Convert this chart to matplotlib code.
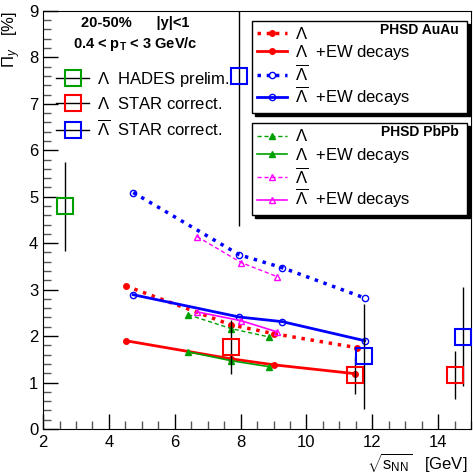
import matplotlib
matplotlib.use("Agg")
import matplotlib.pyplot as plt
from matplotlib.lines import Line2D
from matplotlib.ticker import MultipleLocator

plt.rcParams['font.family'] = ['Liberation Sans', 'DejaVu Sans']
plt.rcParams['mathtext.fontset'] = 'custom'
plt.rcParams['mathtext.rm'] = 'Liberation Sans'
plt.rcParams['mathtext.it'] = 'Liberation Sans:italic'
plt.rcParams['mathtext.bf'] = 'Liberation Sans:bold'

# ---------------- datos PHSD AuAu ----------------
lam_auau_x = [4.51, 7.71, 9.02, 11.53]
lam_auau_y = [3.08, 2.24, 2.05, 1.75]
lam_ew_auau_x = [4.51, 7.71, 9.02, 11.48]
lam_ew_auau_y = [1.90, 1.51, 1.38, 1.19]
alam_auau_x = [4.74, 7.96, 9.27, 11.77]
alam_auau_y = [5.09, 3.75, 3.47, 2.82]
alam_ew_auau_x = [4.74, 7.96, 9.27, 11.77]
alam_ew_auau_y = [2.89, 2.41, 2.31, 1.90]

# ---------------- datos PHSD PbPb ----------------
lam_pbpb_x = [6.41, 7.71, 8.87]
lam_pbpb_y = [2.46, 2.16, 1.98]
lam_ew_pbpb_x = [6.41, 7.71, 8.87]
lam_ew_pbpb_y = [1.66, 1.47, 1.34]
alam_pbpb_x = [6.68, 8.02, 9.11]
alam_pbpb_y = [4.14, 3.58, 3.28]
alam_ew_pbpb_x = [6.68, 8.02, 9.11]
alam_ew_pbpb_y = [2.52, 2.33, 2.09]

# ---------------- datos experimentales ----------------
hades_x = [2.67]
hades_y = [4.79]
hades_err = [0.96]
star_lam_x = [7.71, 11.48, 14.52]
star_lam_y = [1.77, 1.16, 1.16]
star_lam_err = [0.58, 0.40, 0.51]
star_alam_x = [7.96, 11.76, 14.76]
star_alam_y = [7.59, 1.57, 1.99]
star_alam_err = [3.23, 1.13, 1.07]

ROJO = '#ff0000'
AZUL = '#0000ff'
VERDE = '#00a000'
MAGENTA = '#ff00ff'

fig = plt.figure(figsize=(4.73, 4.74), dpi=100)
ax = fig.add_axes([0.091, 0.095, 0.905, 0.882])

# Curvas AuAu (gruesas)
ax.plot(lam_auau_x, lam_auau_y, color=ROJO, ls=':', lw=2.5, marker='o', ms=4)
ax.plot(lam_ew_auau_x, lam_ew_auau_y, color=ROJO, ls='-', lw=2, marker='o', ms=4)
ax.plot(alam_auau_x, alam_auau_y, color=AZUL, ls=':', lw=2.5, marker='o', ms=4.5, mfc='none')
ax.plot(alam_ew_auau_x, alam_ew_auau_y, color=AZUL, ls='-', lw=2, marker='o', ms=4.5, mfc='none')

# Curvas PbPb (finas)
ax.plot(lam_pbpb_x, lam_pbpb_y, color=VERDE, ls=(0, (3, 2)), lw=1, marker='^', ms=4)
ax.plot(lam_ew_pbpb_x, lam_ew_pbpb_y, color=VERDE, ls='-', lw=1.2, marker='^', ms=4)
ax.plot(alam_pbpb_x, alam_pbpb_y, color=MAGENTA, ls=(0, (3, 2)), lw=1, marker='^', ms=5, mfc='none')
ax.plot(alam_ew_pbpb_x, alam_ew_pbpb_y, color=MAGENTA, ls='-', lw=1.2, marker='^', ms=5, mfc='none')

# Puntos experimentales
ax.errorbar(hades_x, hades_y, yerr=hades_err, fmt='s', ms=11, mfc='none', mec=VERDE,
            mew=1.5, ecolor='black', elinewidth=1, capsize=0, zorder=5)
ax.errorbar(star_lam_x, star_lam_y, yerr=star_lam_err, fmt='s', ms=11, mfc='none', mec=ROJO,
            mew=1.5, ecolor='black', elinewidth=1, capsize=0, zorder=5)
ax.errorbar(star_alam_x, star_alam_y, yerr=star_alam_err, fmt='s', ms=11, mfc='none', mec=AZUL,
            mew=1.5, ecolor='black', elinewidth=1, capsize=0, zorder=5)

ax.set_xlim(2, 15)
ax.set_ylim(0, 9)
ax.xaxis.set_major_locator(MultipleLocator(2))
ax.xaxis.set_minor_locator(MultipleLocator(0.5))
ax.yaxis.set_major_locator(MultipleLocator(1))
ax.yaxis.set_minor_locator(MultipleLocator(0.2))
ax.tick_params(which='both', direction='in', labelsize=12, top=False, right=False)
ax.tick_params(which='major', length=11, width=1)
ax.tick_params(which='minor', length=6, width=1, color='#555555')
ax.tick_params(axis='x', pad=4)

ax.set_xlabel(r'$\sqrt{\mathrm{s}_{\mathrm{NN}}}$   [GeV]', fontsize=12, ha='right')
ax.xaxis.set_label_coords(0.992, -0.055)
ax.set_ylabel(r'$\Pi_y$   [%]', loc='top', fontsize=12, labelpad=4)

# Encabezado
ax.text(0.215, 0.971, '20-50%      |y|<1', transform=ax.transAxes, ha='center', va='center',
        fontsize=10.5, fontweight='bold')
ax.text(0.215, 0.922, r'0.4 < p$_{\bf T}$ < 3 GeV/c', transform=ax.transAxes, ha='center',
        va='center', fontsize=10.5, fontweight='bold')

# Leyenda experimental
h_exp = [Line2D([], [], color='black', lw=1, marker='s', ms=11, mfc='none', mec=c, mew=1.5)
         for c in (VERDE, ROJO, AZUL)]
lab_exp = [r'$\Lambda$  HADES prelim.', r'$\Lambda$  STAR correct.',
           r'$\overline{\Lambda}$  STAR correct.']
leg1 = ax.legend(h_exp, lab_exp, loc='upper left', bbox_to_anchor=(0.015, 0.875),
                 frameon=False, fontsize=12, handlelength=2.0, handletextpad=0.45,
                 labelspacing=0.42, borderaxespad=0)
ax.add_artist(leg1)

# Leyenda PHSD AuAu
h_au = [Line2D([], [], color=ROJO, ls=':', lw=2.5, marker='o', ms=4),
        Line2D([], [], color=ROJO, ls='-', lw=2, marker='o', ms=4),
        Line2D([], [], color=AZUL, ls=':', lw=2.5, marker='o', ms=4.5, mfc='none'),
        Line2D([], [], color=AZUL, ls='-', lw=2, marker='o', ms=4.5, mfc='none')]
lab_pm = [r'$\Lambda$', r'$\Lambda$  +EW decays', r'$\overline{\Lambda}$',
          r'$\overline{\Lambda}$  +EW decays']
sombra = {'color': 'black', 'alpha': 1}
leg2 = ax.legend(h_au, lab_pm, loc='upper left', bbox_to_anchor=(0.488, 0.976, 0.503, 0.0),
                 mode='expand', fontsize=12, handlelength=1.8, handletextpad=0.5,
                 labelspacing=0.08, borderaxespad=0, borderpad=0.3, fancybox=False,
                 edgecolor='black', framealpha=1, shadow=sombra)
leg2.get_frame().set_linewidth(1)
ax.add_artist(leg2)

# Leyenda PHSD PbPb
h_pb = [Line2D([], [], color=VERDE, ls=(0, (3, 2)), lw=1, marker='^', ms=4),
        Line2D([], [], color=VERDE, ls='-', lw=1.2, marker='^', ms=4),
        Line2D([], [], color=MAGENTA, ls=(0, (3, 2)), lw=1, marker='^', ms=5, mfc='none'),
        Line2D([], [], color=MAGENTA, ls='-', lw=1.2, marker='^', ms=5, mfc='none')]
leg3 = ax.legend(h_pb, lab_pm, loc='upper left', bbox_to_anchor=(0.488, 0.731, 0.503, 0.0),
                 mode='expand', fontsize=12, handlelength=1.8, handletextpad=0.5,
                 labelspacing=0.08, borderaxespad=0, borderpad=0.3, fancybox=False,
                 edgecolor='black', framealpha=1, shadow=sombra)
leg3.get_frame().set_linewidth(1)

ax.text(0.97, 0.955, 'PHSD AuAu', transform=ax.transAxes, ha='right', va='center',
        fontsize=10, fontweight='bold', zorder=10)
ax.text(0.97, 0.71, 'PHSD PbPb', transform=ax.transAxes, ha='right', va='center',
        fontsize=10, fontweight='bold', zorder=10)

fig.savefig('out.png', dpi=100)
